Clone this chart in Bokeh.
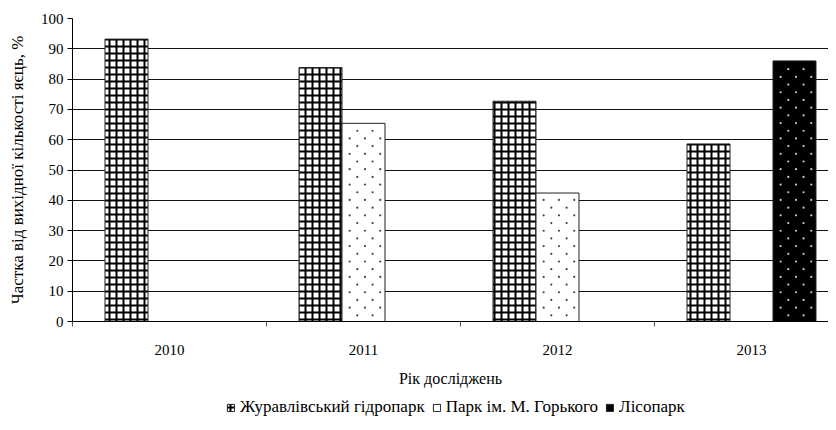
from bokeh.plotting import figure
from bokeh.models import ColumnDataSource, Range1d, FixedTicker, Legend, LegendItem
from bokeh.layouts import column
from bokeh.transform import dodge
from bokeh.embed import file_html
from bokeh.resources import INLINE
import math

years = ["2010", "2011", "2012", "2013"]
zhuravlivskyi = [93.2, 83.8, 72.7, 58.6]
gorkogo = [math.nan, 65.4, 42.4, math.nan]
lisopark = [math.nan, math.nan, math.nan, 86.0]
y_ticks = [0, 10, 20, 30, 40, 50, 60, 70, 80, 90, 100]
series_names = ["Журавлівський гідропарк", "Парк ім. М. Горького", "Лісопарк"]

FONT = "'Liberation Serif', 'Times New Roman', serif"
centers = [i + 0.5 for i in range(len(years))]
src = ColumnDataSource(dict(x=centers, zh=zhuravlivskyi, go=gorkogo, li=lisopark))

LEFT, TOP = 72, 18
W = 828
H_MAIN = 392
H_LEG = 30
cat_px = 194.0
bw = 0.2216
offsets = [-bw, 0.0, bw]

styles = [
    dict(fill_color="white", line_color="#222222", line_width=1,
         hatch_pattern="+", hatch_color="black", hatch_scale=7, hatch_weight=2),
    dict(fill_color="white", line_color="#222222", line_width=1),
    dict(fill_color="black", line_color="#222222", line_width=1),
]

p = figure(width=W, height=H_MAIN, output_backend="svg", toolbar_location=None,
           x_range=Range1d(0, (W - LEFT) / cat_px), y_range=Range1d(0, 100),
           min_border_left=LEFT, min_border_right=0, min_border_top=TOP,
           min_border_bottom=H_MAIN - 321)
p.outline_line_color = None
p.background_fill_color = "white"
p.border_fill_color = "white"

for col, off, st in zip(["zh", "go", "li"], offsets, styles):
    p.vbar(x=dodge("x", off, range=p.x_range), top=col, width=bw, source=src, **st)


# sparse staggered dot texture inside the dotted bars (derived from the data)
def dot_texture(tops, off):
    dx = 7.65 / cat_px          # half of the horizontal dot period
    dy = 7.7 / 3.033            # row spacing in value units
    xs, ys = [], []
    for c, t in zip(centers, tops):
        if math.isnan(t):
            continue
        left = c + off - bw / 2
        y, k = dy * 0.8, 0
        while y < t - 0.6:
            x = left + (dx if k % 2 else 2 * dx)
            while x < left + bw - 0.3 * dx:
                xs.append(x)
                ys.append(y)
                x += 2 * dx
            y += dy
            k += 1
    return xs, ys


gx, gy = dot_texture(gorkogo, offsets[1])
p.scatter(gx, gy, marker="circle", size=2.2, fill_color="#444444", line_color=None)
lx, ly = dot_texture(lisopark, offsets[2])
p.scatter(lx, ly, marker="circle", size=2.2, fill_color="#cccccc", line_color=None)

p.xgrid.grid_line_color = None
p.ygrid.ticker = FixedTicker(ticks=y_ticks)
p.ygrid.grid_line_color = "#111111"
p.ygrid.grid_line_width = 1

xa = p.xaxis[0]
xa.ticker = FixedTicker(ticks=centers, minor_ticks=[0, 1, 2, 3])
xa.major_label_overrides = {c: y for c, y in zip(centers, years)}
xa.major_tick_out = 0
xa.major_tick_in = 0
xa.minor_tick_out = 5
xa.minor_tick_in = 0
xa.minor_tick_line_color = "#555555"
xa.axis_line_color = "black"
xa.major_label_standoff = 18
xa.axis_label = "Рік досліджень"
xa.axis_label_standoff = 12
xa.axis_label_text_font_style = "normal"

ya = p.yaxis[0]
ya.ticker = FixedTicker(ticks=y_ticks)
ya.major_tick_out = 5
ya.major_tick_in = 0
ya.minor_tick_out = 0
ya.minor_tick_in = 0
ya.axis_line_color = "black"
ya.major_label_standoff = 4
ya.axis_label = "Частка від вихідної кількості яєць, %"
ya.axis_label_standoff = 11
ya.axis_label_text_font_style = "normal"

for ax in (xa, ya):
    ax.major_label_text_font = FONT
    ax.major_label_text_font_size = "15px"
    ax.major_label_text_color = "black"
    ax.axis_label_text_font = FONT
    ax.axis_label_text_color = "black"
xa.axis_label_text_font_size = "16px"
ya.axis_label_text_font_size = "17px"

# legend strip (glyphs drawn off-screen so only the legend shows)
lf = figure(width=W, height=H_LEG, output_backend="svg", toolbar_location=None,
            x_range=Range1d(0, 1), y_range=Range1d(0, 1),
            min_border=0, x_axis_type=None, y_axis_type=None)
lf.outline_line_color = None
lf.grid.visible = False
offscreen = ColumnDataSource(dict(x=[5.0], top=[1.0]))
items = []
for name, st in zip(series_names, styles):
    r = lf.vbar(x="x", top="top", width=0.1, source=offscreen, **st)
    items.append(LegendItem(label=name, renderers=[r]))
legend = Legend(items=items, orientation="horizontal", location=(154, 5))
legend.glyph_width = 9
legend.glyph_height = 9
legend.label_standoff = 5
legend.spacing = 7
legend.padding = 0
legend.margin = 0
legend.border_line_color = None
legend.background_fill_alpha = 0
legend.label_text_font = FONT
legend.label_text_font_size = "17px"
legend.label_text_color = "black"
lf.add_layout(legend, "center")

layout = column(p, lf, spacing=0)
open("out.html", "w").write(file_html(layout, INLINE))
